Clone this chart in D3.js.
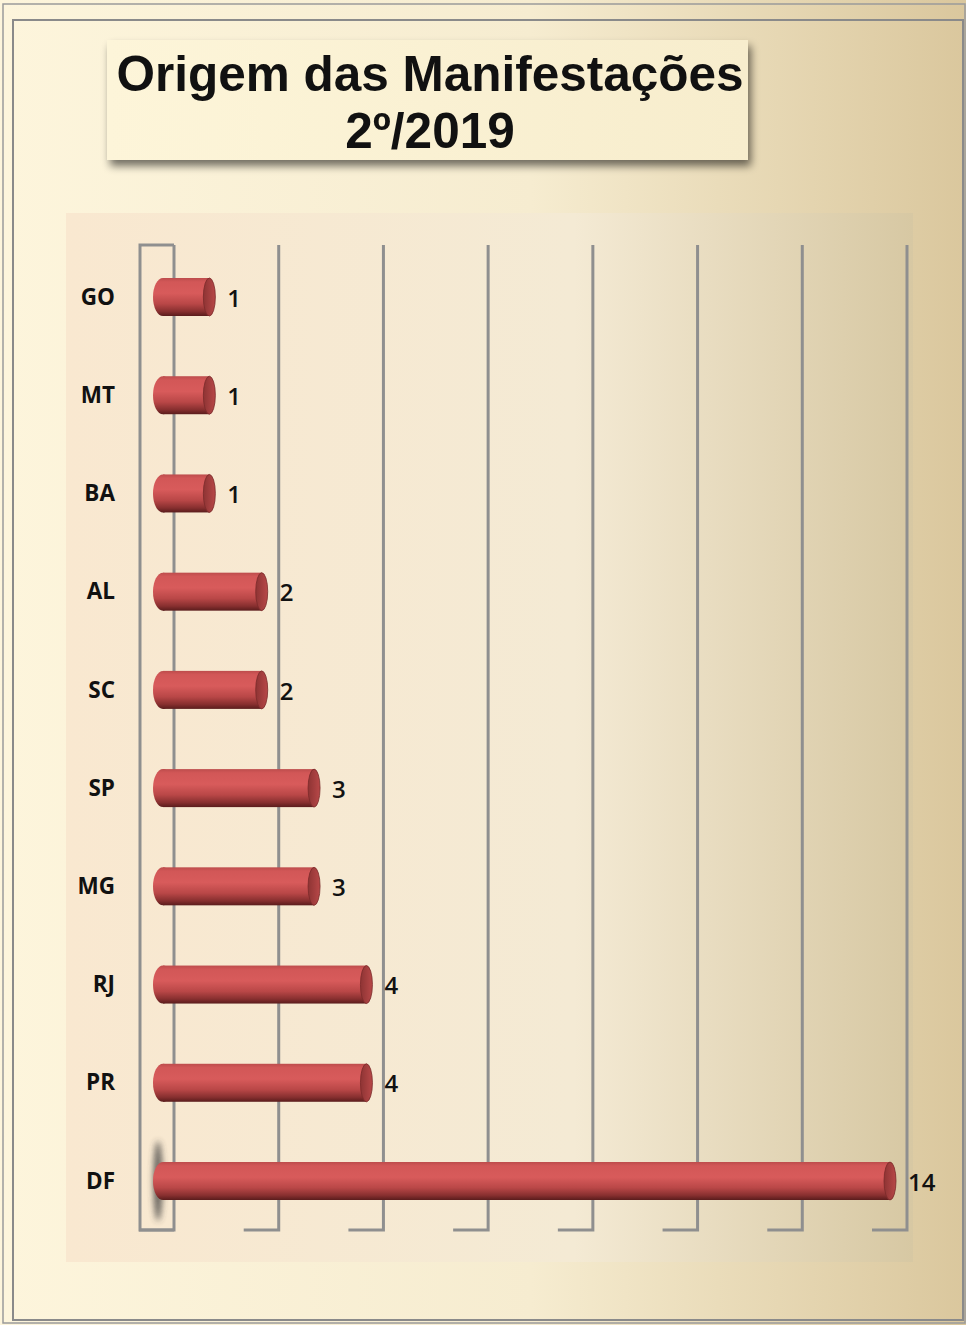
<!DOCTYPE html>
<html>
<head>
<meta charset="utf-8">
<script src="https://cdn.jsdelivr.net/npm/d3@7"></script>
<style>
  html, body { margin: 0; padding: 0; background: #fff; }
  svg { display: block; }
</style>
</head>
<body>
<div id="chart"></div>
<script>
// Chart data
const categories = ['GO', 'MT', 'BA', 'AL', 'SC', 'SP', 'MG', 'RJ', 'PR', 'DF'];
const values = [1, 1, 1, 2, 2, 3, 3, 4, 4, 14];
const titleLines = ['Origem das Manifestações', '2º/2019'];

const W = 966, H = 1325;
const depth = 17; // horizontal offset between back wall and bar front plane

const svg = d3.select('#chart').append('svg')
    .attr('width', W)
    .attr('height', H);

const defs = svg.append('defs');

// background gradients
const bgGrad = defs.append('linearGradient').attr('id', 'bgGrad');
bgGrad.append('stop').attr('offset', '0%').attr('stop-color', '#fdf5dc');
bgGrad.append('stop').attr('offset', '55%').attr('stop-color', '#f6ecd0');
bgGrad.append('stop').attr('offset', '100%').attr('stop-color', '#dac79d');

const plotGrad = defs.append('linearGradient').attr('id', 'plotGrad');
plotGrad.append('stop').attr('offset', '0%').attr('stop-color', '#f9e8d0');
plotGrad.append('stop').attr('offset', '60%').attr('stop-color', '#f4ead4');
plotGrad.append('stop').attr('offset', '100%').attr('stop-color', '#d7c8a3');

const titleGrad = defs.append('linearGradient').attr('id', 'titleGrad');
titleGrad.append('stop').attr('offset', '0%').attr('stop-color', '#fdf5d9');
titleGrad.append('stop').attr('offset', '100%').attr('stop-color', '#f7edcd');

// cylinder body, shaded top to bottom
const barGrad = defs.append('linearGradient').attr('id', 'barGrad')
    .attr('x1', 0).attr('y1', 0).attr('x2', 0).attr('y2', 1);
[['0%', '#bd4c4c'], ['10%', '#d25757'], ['40%', '#d85b5b'], ['68%', '#b94747'], ['88%', '#872f2f'], ['100%', '#5a1c1c']]
    .forEach(s => barGrad.append('stop').attr('offset', s[0]).attr('stop-color', s[1]));

const capGrad = defs.append('linearGradient').attr('id', 'capGrad')
    .attr('x1', 0).attr('y1', 0).attr('x2', 1).attr('y2', 0);
capGrad.append('stop').attr('offset', '0%').attr('stop-color', '#8e3434');
capGrad.append('stop').attr('offset', '100%').attr('stop-color', '#b84848');

const shadow = defs.append('filter').attr('id', 'shadow')
    .attr('x', '-10%').attr('y', '-20%').attr('width', '130%').attr('height', '160%');
shadow.append('feGaussianBlur').attr('in', 'SourceAlpha').attr('stdDeviation', 4);
shadow.append('feOffset').attr('dx', 3).attr('dy', 6).attr('result', 'off');
shadow.append('feComponentTransfer').append('feFuncA').attr('type', 'linear').attr('slope', 0.55);
const merge = shadow.append('feMerge');
merge.append('feMergeNode');
merge.append('feMergeNode').attr('in', 'SourceGraphic');

const blur = defs.append('filter').attr('id', 'blur')
    .attr('x', '-300%').attr('y', '-50%').attr('width', '700%').attr('height', '200%');
blur.append('feGaussianBlur').attr('stdDeviation', 3);

// page background + frames
svg.append('rect').attr('x', 0).attr('y', 0).attr('width', W).attr('height', H).attr('fill', 'url(#bgGrad)');
svg.append('rect').attr('x', 3).attr('y', 4).attr('width', W - 4).attr('height', H - 6)
    .attr('fill', 'none').attr('stroke', '#9a9a9a').attr('stroke-width', 1.5);
svg.append('rect').attr('x', 13).attr('y', 20).attr('width', 950).attr('height', 1300)
    .attr('fill', 'none').attr('stroke', '#8a8a8a').attr('stroke-width', 2);

// title box
svg.append('rect').attr('x', 107).attr('y', 40).attr('width', 641).attr('height', 120)
    .attr('fill', 'url(#titleGrad)').attr('filter', 'url(#shadow)');
svg.append('g').selectAll('text')
    .data(titleLines)
    .enter().append('text')
    .attr('x', 430)
    .attr('y', (d, i) => 91 + i * 57)
    .attr('text-anchor', 'middle')
    .attr('font-family', 'Liberation Sans, Arial, sans-serif')
    .attr('font-weight', 'bold')
    .attr('font-size', 49.5)
    .attr('fill', '#111')
    .text(d => d);

// plot area
svg.append('rect').attr('x', 66).attr('y', 213).attr('width', 847).attr('height', 1049)
    .attr('fill', 'url(#plotGrad)');

// scales
const x = d3.scaleLinear().domain([0, 14]).range([174, 907]);
const y = d3.scalePoint().domain(categories).range([297, 1181]);
const barH = 38;
const wallTop = 245, floorY = 1230;
const xFront = v => x(v) - depth;

// floor line + left wall
const grid = svg.append('g').attr('stroke', '#8f8f8f').attr('stroke-width', 3).attr('fill', 'none');
svg.insert('line', 'g').attr('x1', 140).attr('x2', x(14)).attr('y1', floorY).attr('y2', floorY)
    .attr('stroke', '#dcd5c4').attr('stroke-width', 1.5);
grid.append('path')
    .attr('d', `M${x(0)},${wallTop}H140V${floorY}H${x(0)}`);

// back wall gridlines with floor segments
const ticks = x.ticks(7);
grid.selectAll('.gl')
    .data(ticks)
    .enter().append('path')
    .attr('class', 'gl')
    .attr('d', d => `M${x(d)},${wallTop}V${floorY}H${x(d) - 35}`);

// category labels
const yAxis = svg.append('g')
    .attr('transform', 'translate(123,0)')
    .call(d3.axisLeft(y).tickSize(0).tickPadding(8));
yAxis.select('.domain').remove();
yAxis.selectAll('text')
    .attr('font-family', 'Open Sans, sans-serif')
    .attr('font-weight', 'bold')
    .attr('font-size', 22.5)
    .attr('fill', '#111');

const data = categories.map((c, i) => ({ cat: c, value: values[i] }));

// faint shadow beside the longest bar
const maxD = data.reduce((a, b) => (b.value > a.value ? b : a));
svg.append('ellipse')
    .attr('cx', xFront(0) + 1).attr('cy', y(maxD.cat))
    .attr('rx', 4.5).attr('ry', 40)
    .attr('fill', '#3a3a3a').attr('opacity', 0.8)
    .attr('filter', 'url(#blur)');

// cylinder bars
const bars = svg.append('g').selectAll('g')
    .data(data)
    .enter().append('g');

bars.append('ellipse')
    .attr('cx', xFront(0) + 6)
    .attr('cy', d => y(d.cat))
    .attr('rx', 10)
    .attr('ry', barH / 2)
    .attr('fill', 'url(#barGrad)');

bars.append('rect')
    .attr('x', xFront(0) + 6)
    .attr('y', d => y(d.cat) - barH / 2)
    .attr('width', d => xFront(d.value) - xFront(0) - 6)
    .attr('height', barH)
    .attr('fill', 'url(#barGrad)');

bars.append('ellipse')
    .attr('cx', d => xFront(d.value))
    .attr('cy', d => y(d.cat))
    .attr('rx', 6)
    .attr('ry', barH / 2)
    .attr('fill', 'url(#capGrad)')
    .attr('stroke', '#7a2a2a')
    .attr('stroke-width', 0.8);

// value labels
bars.append('text')
    .attr('x', d => xFront(d.value) + 18)
    .attr('y', d => y(d.cat) + 1)
    .attr('dy', '0.36em')
    .attr('font-family', 'Open Sans, sans-serif')
    .attr('font-weight', 600)
    .attr('font-size', 24)
    .attr('fill', '#111')
    .text(d => d.value);
</script>
</body>
</html>
